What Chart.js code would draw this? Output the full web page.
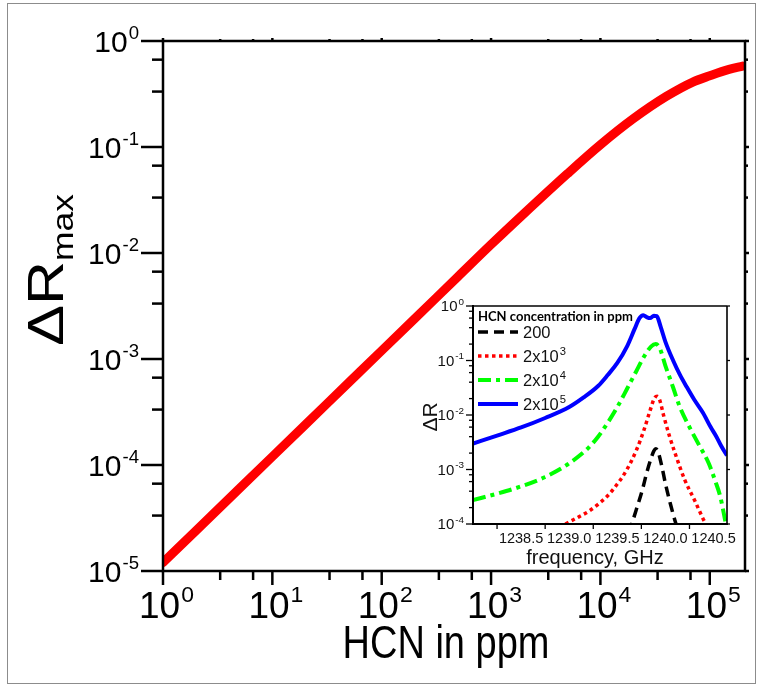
<!DOCTYPE html>
<html>
<head>
<meta charset="utf-8">
<script src="https://cdn.jsdelivr.net/npm/chart.js@4.4.0/dist/chart.umd.min.js"></script>
<style>
  html, body { margin: 0; padding: 0; background: #fff; }
  #page { position: relative; width: 761px; height: 687px; overflow: hidden; }
  #frame { position: absolute; left: 7px; top: 3px; width: 747px; height: 679px; border: 1px solid #8c8c8c; }
  #mainChart { position: absolute; left: 0; top: 0; }
  #insetChart { position: absolute; left: 415px; top: 290px; }
</style>
</head>
<body>
<div id="page">
  <div id="frame"></div>
  <canvas id="mainChart" width="761" height="687"></canvas>
  <canvas id="insetChart" width="330" height="280"></canvas>
</div>
<script>
// main plot: max reflection change vs HCN concentration
const hcnPpm = [1, 2, 5, 10, 20, 50, 100, 200, 500, 1000, 2000, 5000, 10000, 20000, 40000, 70000, 100000, 150000, 200000];
const deltaRMax = [1.2e-5, 2.4e-5, 6.0e-5, 1.2e-4, 2.4e-4, 6.0e-4, 1.2e-3, 2.4e-3, 6.0e-3, 1.2e-2, 2.35e-2, 5.6e-2, 0.105, 0.185, 0.30, 0.41, 0.47, 0.54, 0.58];
const mainXTicks = [1, 10, 100, 1000, 10000, 100000];
const mainYTicks = [1e-5, 1e-4, 1e-3, 1e-2, 1e-1, 1];

// inset: spectra for four concentrations
const seriesLabels = ['200', '2x10^3', '2x10^4', '2x10^5'];
const freq200 = [1239.62, 1239.65, 1239.70, 1239.76, 1239.80, 1239.84, 1239.88, 1239.90, 1239.92, 1239.96, 1240.00, 1240.05, 1240.11, 1240.14];
const dR200 = [7e-5, 1.0e-4, 1.9e-4, 4.2e-4, 8e-4, 1.4e-3, 2.2e-3, 2.4e-3, 2.2e-3, 1.2e-3, 5.5e-4, 2.4e-4, 1.0e-4, 7e-5];
const freq2e3 = [1238.9, 1238.96, 1239.1, 1239.2, 1239.3, 1239.4, 1239.5, 1239.6, 1239.7, 1239.78, 1239.84, 1239.89, 1239.915, 1239.94, 1239.98, 1240.04, 1240.1, 1240.2, 1240.3, 1240.42, 1240.46];
const dR2e3 = [8.5e-5, 1.0e-4, 1.35e-4, 1.7e-4, 2.3e-4, 3.3e-4, 5.4e-4, 1.0e-3, 2.3e-3, 5.5e-3, 1.2e-2, 2.1e-2, 2.2e-2, 1.9e-2, 1.0e-2, 4.2e-3, 2.0e-3, 6.5e-4, 2.8e-4, 1.0e-4, 8e-5];
const freq2e4 = [1238.0, 1238.25, 1238.5, 1238.75, 1239.0, 1239.2, 1239.3, 1239.4, 1239.5, 1239.6, 1239.7, 1239.78, 1239.85, 1239.9, 1239.94, 1240.0, 1240.08, 1240.15, 1240.25, 1240.35, 1240.45, 1240.52, 1240.57, 1240.6, 1240.63, 1240.66];
const dR2e4 = [2.75e-4, 3.6e-4, 4.9e-4, 7.3e-4, 1.3e-3, 2.5e-3, 4e-3, 7.2e-3, 1.4e-2, 3.0e-2, 6.5e-2, 0.12, 0.18, 0.2, 0.17, 8e-2, 3.2e-2, 1.4e-2, 6e-3, 2.8e-3, 1.3e-3, 6e-4, 3.2e-4, 1.8e-4, 1.0e-4, 8e-5];
const freq2e5 = [1238.0, 1238.25, 1238.5, 1238.75, 1239.0, 1239.15, 1239.3, 1239.4, 1239.5, 1239.6, 1239.68, 1239.73, 1239.77, 1239.81, 1239.84, 1239.88, 1239.91, 1239.95, 1240.0, 1240.08, 1240.15, 1240.22, 1240.3, 1240.39, 1240.47, 1240.53, 1240.58, 1240.64];
const dR2e5 = [3.0e-3, 4.2e-3, 5.9e-3, 8.8e-3, 1.4e-2, 2.1e-2, 3.4e-2, 5.4e-2, 9e-2, 0.18, 0.38, 0.6, 0.68, 0.62, 0.6, 0.66, 0.65, 0.42, 0.22, 0.10, 5.5e-2, 3.3e-2, 1.9e-2, 1.1e-2, 6e-3, 4e-3, 2.7e-3, 1.8e-3];
const insetXTicks = [1238.5, 1239.0, 1239.5, 1240.0, 1240.5];
const insetYTicks = [1e-4, 1e-3, 1e-2, 1e-1, 1];

const FONT = '"Liberation Sans", Arial, sans-serif';

function pts(xs, ys) {
  return xs.map((x, i) => ({ x: x, y: ys[i] }));
}

function seg(ctx, x1, y1, x2, y2) {
  ctx.beginPath();
  ctx.moveTo(x1, y1);
  ctx.lineTo(x2, y2);
  ctx.stroke();
}

// text like 10^-3 : base plus raised exponent, y is the baseline
function drawPow(ctx, text, x, y, size, align, supRatio) {
  const parts = text.split('^');
  const base = parts[0], sup = parts[1] || '';
  const supSize = size * (supRatio || 0.62);
  ctx.font = size + 'px ' + FONT;
  const wb = ctx.measureText(base).width;
  ctx.font = supSize + 'px ' + FONT;
  const ws = sup ? ctx.measureText(sup).width : 0;
  let x0 = x;
  if (align === 'right') x0 = x - wb - ws;
  if (align === 'center') x0 = x - (wb + ws) / 2;
  ctx.textAlign = 'left';
  ctx.textBaseline = 'alphabetic';
  ctx.font = size + 'px ' + FONT;
  ctx.fillText(base, x0, y);
  if (sup) {
    ctx.font = supSize + 'px ' + FONT;
    ctx.fillText(sup, x0 + wb + 1, y - size * 0.42);
  }
}

function expLabel(v) {
  return '10^' + Math.round(Math.log10(v));
}

const mainAxes = {
  id: 'mainAxes',
  afterDatasetsDraw(chart) {
    const { ctx, chartArea: a, scales: { x, y } } = chart;
    ctx.save();
    ctx.strokeStyle = '#000';
    ctx.fillStyle = '#000';
    ctx.lineWidth = 2.5;
    ctx.strokeRect(a.left, a.top, a.right - a.left, a.bottom - a.top);

    // y axis ticks and labels
    mainYTicks.forEach((v, i) => {
      const py = y.getPixelForValue(v);
      seg(ctx, a.left - 22, py, a.left, py);
      seg(ctx, a.right, py, a.right + 4, py);
      drawPow(ctx, expLabel(v), a.left - 25, py + 11, 30, 'right');
      if (i < mainYTicks.length - 1) {
        [10 / 3, 20 / 3].forEach(m => {
          const my = y.getPixelForValue(v * m);
          seg(ctx, a.left - 11, my, a.left, my);
          seg(ctx, a.right, my, a.right + 3, my);
        });
      }
    });

    // x axis ticks and labels
    mainXTicks.forEach(v => {
      const px = x.getPixelForValue(v);
      seg(ctx, px, a.bottom, px, a.bottom + 14);
      seg(ctx, px, a.top, px, a.top - 3);
      drawPow(ctx, expLabel(v), px + 3, a.bottom + 47, 37, 'center');
      [10 / 3, 20 / 3].forEach(m => {
        const mv = v * m;
        if (mv < x.max) {
          const mx = x.getPixelForValue(mv);
          seg(ctx, mx, a.bottom, mx, a.bottom + 9);
          seg(ctx, mx, a.top, mx, a.top - 2);
        }
      });
    });

    // axis titles
    ctx.save();
    ctx.translate(446, 658);
    ctx.scale(1, 1.2);
    ctx.font = '38px ' + FONT;
    ctx.textAlign = 'center';
    ctx.textBaseline = 'alphabetic';
    ctx.fillText('HCN in ppm', 0, 0);
    ctx.restore();

    ctx.translate(63, 270);
    ctx.rotate(-Math.PI / 2);
    ctx.scale(1.22, 1);
    ctx.font = '50px ' + FONT;
    const w1 = ctx.measureText('\u0394R').width;
    ctx.font = '29px ' + FONT;
    const w2 = ctx.measureText('max').width;
    const x0 = -(w1 + w2) / 2;
    ctx.textAlign = 'left';
    ctx.font = '50px ' + FONT;
    ctx.fillText('\u0394R', x0, 0);
    ctx.font = '29px ' + FONT;
    ctx.fillText('max', x0 + w1, 10);
    ctx.restore();
  }
};

new Chart(document.getElementById('mainChart'), {
  type: 'line',
  data: {
    datasets: [{
      data: pts(hcnPpm, deltaRMax),
      borderColor: '#ff0000',
      borderWidth: 9,
      pointRadius: 0,
      cubicInterpolationMode: 'monotone',
      borderCapStyle: 'round',
      clip: 0
    }]
  },
  options: {
    responsive: false,
    animation: false,
    layout: { padding: { left: 163, top: 41, right: 16, bottom: 116 } },
    plugins: { legend: { display: false }, tooltip: { enabled: false } },
    scales: {
      x: { type: 'logarithmic', min: 1, max: 2.1e5, display: false },
      y: { type: 'logarithmic', min: 1e-5, max: 1, display: false }
    }
  },
  plugins: [mainAxes]
});

const insetAxes = {
  id: 'insetAxes',
  beforeDatasetsDraw(chart) {
    const { ctx, chartArea: a } = chart;
    ctx.save();
    ctx.fillStyle = '#fff';
    ctx.fillRect(a.left, a.top, a.right - a.left, a.bottom - a.top);
    ctx.restore();
  },
  afterDatasetsDraw(chart) {
    const { ctx, chartArea: a, scales: { x, y } } = chart;
    ctx.save();
    ctx.strokeStyle = '#000';
    ctx.fillStyle = '#111';
    ctx.lineWidth = 1.6;
    seg(ctx, a.left, a.top, a.right, a.top);
    seg(ctx, a.right, a.top, a.right, a.bottom);
    ctx.lineWidth = 2;
    seg(ctx, a.left, a.top - 1, a.left, a.bottom + 1);
    seg(ctx, a.left - 1, a.bottom, a.right + 1, a.bottom);

    ctx.lineWidth = 1.3;
    insetYTicks.forEach((v, i) => {
      const py = y.getPixelForValue(v);
      seg(ctx, a.left - 7, py, a.left, py);
      seg(ctx, a.right, py, a.right + 3, py);
      drawPow(ctx, expLabel(v), a.left - 10, py + 5, 15, 'right', 0.66);
      if (i < insetYTicks.length - 1) {
        [2, 4, 6, 8].forEach(m => {
          const my = y.getPixelForValue(v * m);
          seg(ctx, a.left - 4, my, a.left, my);
        });
      }
    });

    insetXTicks.forEach(v => {
      const px = x.getPixelForValue(v);
      const tx = x.getPixelForValue(v - 0.25);
      seg(ctx, tx, a.bottom, tx, a.bottom + 5);
      ctx.font = '14.5px ' + FONT;
      ctx.textAlign = 'center';
      ctx.textBaseline = 'alphabetic';
      ctx.fillText(v.toFixed(1), px, a.bottom + 19);
    });

    ctx.font = '20px ' + FONT;
    ctx.textAlign = 'center';
    ctx.fillText('frequency, GHz', 180, 274);

    ctx.save();
    ctx.translate(22, 127);
    ctx.rotate(-Math.PI / 2);
    ctx.font = '21px ' + FONT;
    ctx.fillText('\u0394R', 0, 0);
    ctx.restore();

    // legend
    const lx = a.left + 5;
    ctx.font = 'bold 13px Lato, "Open Sans", sans-serif';
    ctx.textAlign = 'left';
    ctx.textBaseline = 'middle';
    ctx.fillStyle = '#000';
    ctx.fillText('HCN concentration in ppm', lx, a.top + 11);
    chart.data.datasets.forEach((ds, i) => {
      const ly = a.top + 26 + i * 24;
      ctx.save();
      ctx.strokeStyle = ds.borderColor;
      ctx.lineWidth = ds.borderWidth;
      ctx.setLineDash(ds.borderDash || []);
      seg(ctx, lx, ly, lx + 40, ly);
      ctx.restore();
      ctx.fillStyle = '#111';
      drawPow(ctx, seriesLabels[i], lx + 45, ly + 6, 16.5, 'left', 0.68);
    });
    ctx.restore();
  }
};

new Chart(document.getElementById('insetChart'), {
  type: 'line',
  data: {
    datasets: [
      { data: pts(freq200, dR200), borderColor: '#000000', borderWidth: 3.5, borderDash: [10, 6] },
      { data: pts(freq2e3, dR2e3), borderColor: '#ff0000', borderWidth: 3.5, borderDash: [3.5, 3.5] },
      { data: pts(freq2e4, dR2e4), borderColor: '#00ff00', borderWidth: 4, borderDash: [13, 5, 4, 5] },
      { data: pts(freq2e5, dR2e5), borderColor: '#0000ff', borderWidth: 4 }
    ].map(d => Object.assign(d, { pointRadius: 0, cubicInterpolationMode: 'monotone', clip: 0 }))
  },
  options: {
    responsive: false,
    animation: false,
    layout: { padding: { left: 58, top: 16, right: 18, bottom: 46 } },
    plugins: { legend: { display: false }, tooltip: { enabled: false } },
    scales: {
      x: { type: 'linear', min: 1238.0, max: 1240.64, display: false },
      y: { type: 'logarithmic', min: 1e-4, max: 1, display: false }
    }
  },
  plugins: [insetAxes]
});
</script>
</body>
</html>
